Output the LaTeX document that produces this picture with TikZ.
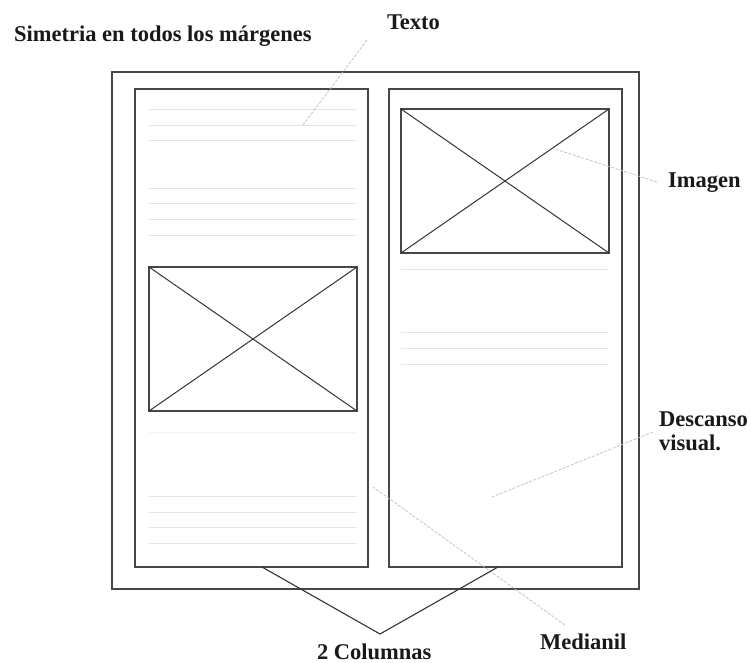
\documentclass[tikz,border=0pt]{standalone}
\usepackage{fontspec}
\setmainfont{Liberation Serif}
\begin{document}
\begin{tikzpicture}[x=1bp,y=-1bp,
  frame/.style={draw=black!72, line width=1.2bp, inner sep=0, outer sep=0},
  txtline/.style={draw=black!10, line width=0.9bp},
  leader/.style={draw=black!25, line width=0.7bp, dash pattern=on 3bp off 1.5bp},
  bracket/.style={draw=black!80, line width=1.1bp},
  lbl/.style={inner sep=0, outer sep=0, anchor=base west, text=black!90,
    font=\bfseries\fontsize{22.6}{24}\selectfont}]
\useasboundingbox (0,0) rectangle (751,663);
\fill[white] (0,0) rectangle (751,663);

% page and columns
\node[frame, minimum width=527bp, minimum height=517bp] (outer) at (375.5,330.5) {};
\node[frame, minimum width=233bp, minimum height=478bp] (lcol) at (251.5,328) {};
\node[frame, minimum width=233bp, minimum height=478bp] (rcol) at (505.5,328) {};

% image placeholders
\node[frame, minimum width=208bp, minimum height=144bp] (limg) at (253,339) {};
\node[frame, minimum width=208bp, minimum height=144bp] (rimg) at (505,181) {};
\draw[bracket, line width=1bp] (limg.north west) -- (limg.south east);
\draw[bracket, line width=1bp] (limg.south west) -- (limg.north east);
\draw[bracket, line width=1bp] (rimg.north west) -- (rimg.south east);
\draw[bracket, line width=1bp] (rimg.south west) -- (rimg.north east);

% text lines
\foreach \y in {109,125,140,188,203,219,235,496,512,527,543}
  \draw[txtline] (149,\y) -- (357,\y);
\draw[txtline, draw=black!5] (149,432) -- (357,432);
\foreach \y in {269,332,348,364}
  \draw[txtline] (401,\y) -- (609,\y);

% labels
\node[lbl] (sim) at (14,42) {Simetria en todos los márgenes};
\node[lbl] (texto) at (387,30) {Texto};
\node[lbl] (imagen) at (668,187) {Imagen};
\node[lbl, anchor=north west, align=left] (desc) at (659,411.5) {Descanso\\visual.};
\node[lbl] (medianil) at (540,649) {Medianil};
\node[lbl] (cols) at (317,659) {2 Columnas};

% leader lines
\coordinate (texto-end) at (303,125);
\coordinate (texto-start) at (367,40);
\draw[leader] (texto-start) -- (texto-end);
\coordinate (imagen-start) at (657,182);
\coordinate (imagen-end) at (555,149);
\draw[leader] (imagen-start) -- (imagen-end);
\coordinate (desc-start) at (653,432);
\coordinate (desc-end) at (492,497);
\draw[leader] (desc-start) -- (desc-end);
\coordinate (med-start) at (565,625);
\coordinate (med-end) at (373,487);
\draw[leader] (med-start) -- (med-end);

% 2 columnas bracket
\coordinate (vtx) at (380,634);
\coordinate (lfoot) at (262,567);
\coordinate (rfoot) at (498,567);
\draw[bracket, line join=miter] (lfoot) -- (vtx) -- (rfoot);
\end{tikzpicture}
\end{document}
